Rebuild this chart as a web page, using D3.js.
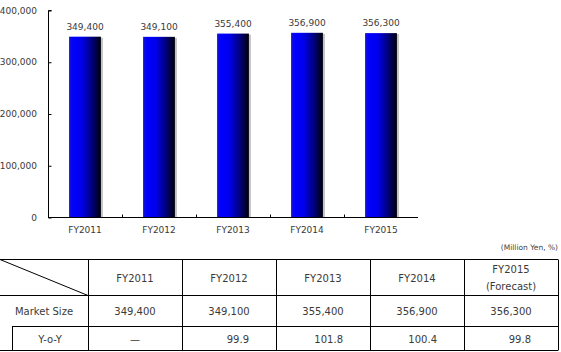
<!DOCTYPE html>
<html>
<head>
<meta charset="utf-8">
<script src="https://cdn.jsdelivr.net/npm/d3@7"></script>
<style>
  body { margin: 0; background: #fff; }
  svg { display: block; font-family: "DejaVu Sans", sans-serif; }
</style>
</head>
<body>
<div id="chart"></div>
<script>
const categories = ['FY2011', 'FY2012', 'FY2013', 'FY2014', 'FY2015'];
const marketSize = [349400, 349100, 355400, 356900, 356300];
const yoyValues = ['—', '99.9', '101.8', '100.4', '99.8'];
const headerLabels = [['FY2011'], ['FY2012'], ['FY2013'], ['FY2014'], ['FY2015', '(Forecast)']];
const yTicks = [0, 100000, 200000, 300000, 400000];
const unitNote = '(Million Yen, %)';

const width = 561, height = 352;
const fmt = d3.format(',');
const textColor = '#3a3a3a';

const svg = d3.select('#chart').append('svg')
    .attr('width', width)
    .attr('height', height);

// gradient for the bars: blue on the left fading to black
const defs = svg.append('defs');
const grad = defs.append('linearGradient')
    .attr('id', 'barGrad')
    .attr('x1', '0%').attr('x2', '100%')
    .attr('y1', '0%').attr('y2', '0%');
grad.append('stop').attr('offset', '0%').attr('stop-color', '#1414c8');
grad.append('stop').attr('offset', '12%').attr('stop-color', '#0000ff');
grad.append('stop').attr('offset', '40%').attr('stop-color', '#0000ea');
grad.append('stop').attr('offset', '75%').attr('stop-color', '#000070');
grad.append('stop').attr('offset', '100%').attr('stop-color', '#000008');

// CHART
const x = d3.scaleBand()
    .domain(categories)
    .range([48, 418])
    .paddingInner(0.57)
    .paddingOuter(0.285);

const y = d3.scaleLinear()
    .domain([0, 400000])
    .range([217.5, 10.5]);

const plot = svg.append('g');

// shadows
plot.selectAll('.bar-shadow')
    .data(marketSize)
    .enter()
    .append('rect')
    .attr('class', 'bar-shadow')
    .attr('x', (d, i) => x(categories[i]) + 2)
    .attr('y', d => y(d) + 1)
    .attr('width', x.bandwidth())
    .attr('height', d => y(0) - y(d) - 1)
    .attr('fill', '#9a9a9a')
    .attr('opacity', 0.6);

plot.selectAll('.bar')
    .data(marketSize)
    .enter()
    .append('rect')
    .attr('class', 'bar')
    .attr('x', (d, i) => x(categories[i]))
    .attr('y', d => y(d))
    .attr('width', x.bandwidth())
    .attr('height', d => y(0) - y(d))
    .attr('fill', 'url(#barGrad)');

plot.selectAll('.bar-label')
    .data(marketSize)
    .enter()
    .append('text')
    .attr('class', 'bar-label')
    .attr('x', (d, i) => x(categories[i]) + x.bandwidth() / 2)
    .attr('y', d => y(d) - 7)
    .attr('text-anchor', 'middle')
    .style('font-size', '9px')
    .attr('fill', textColor)
    .text(d => fmt(d));

// y axis (ticks point inward)
const yAxis = d3.axisRight(y)
    .tickValues(yTicks)
    .tickSize(3)
    .tickFormat('');
const yg = svg.append('g')
    .attr('transform', 'translate(48.5,0)')
    .call(yAxis);
yg.select('.domain').attr('d', `M3,${y(400000)}H0V${y(0)}`);

svg.append('g').selectAll('.y-label')
    .data(yTicks)
    .enter()
    .append('text')
    .attr('class', 'y-label')
    .attr('x', 37)
    .attr('y', d => y(d) + 3)
    .attr('text-anchor', 'end')
    .style('font-size', '9px')
    .attr('fill', textColor)
    .text(d => fmt(d));

// x axis with ticks at category boundaries pointing up
const boundaries = categories.slice(1).map(c => x(c) - x.step() * x.paddingInner() / 2);
const xg = svg.append('g');
xg.append('line')
    .attr('x1', 48).attr('x2', 418)
    .attr('y1', y(0)).attr('y2', y(0))
    .attr('stroke', '#000');
xg.selectAll('.xtick')
    .data(boundaries)
    .enter()
    .append('line')
    .attr('x1', d => Math.round(d) + 0.5)
    .attr('x2', d => Math.round(d) + 0.5)
    .attr('y1', y(0))
    .attr('y2', y(0) - 3)
    .attr('stroke', '#000');

xg.selectAll('.x-label')
    .data(categories)
    .enter()
    .append('text')
    .attr('x', d => x(d) + x.bandwidth() / 2)
    .attr('y', 233)
    .attr('text-anchor', 'middle')
    .style('font-size', '9px')
    .attr('fill', textColor)
    .text(d => d);

// TABLE
const col = d3.scaleBand()
    .domain(categories)
    .range([88, 558]);
const rowTop = 259.5, rowHead = 295.5, rowMs = 326.5, rowBottom = 350.5;

const table = svg.append('g')
    .attr('stroke', '#000')
    .attr('stroke-width', 1);

svg.append('text')
    .attr('x', 558)
    .attr('y', 250)
    .attr('text-anchor', 'end')
    .style('font-size', '7.5px')
    .attr('fill', '#444')
    .text(unitNote);

// horizontal lines
table.append('line').attr('x1', 0).attr('x2', 558).attr('y1', rowTop).attr('y2', rowTop);
table.append('line').attr('x1', 0).attr('x2', 558).attr('y1', rowHead).attr('y2', rowHead);
table.append('line').attr('x1', 12).attr('x2', 558).attr('y1', rowMs).attr('y2', rowMs);
table.append('line').attr('x1', 0).attr('x2', 558).attr('y1', rowBottom).attr('y2', rowBottom);

// vertical lines
const vx = [88].concat(categories.map(c => col(c) + col.bandwidth()));
table.selectAll('.vline')
    .data(vx)
    .enter()
    .append('line')
    .attr('x1', d => Math.round(d) + 0.5)
    .attr('x2', d => Math.round(d) + 0.5)
    .attr('y1', rowTop)
    .attr('y2', rowBottom);
table.append('line').attr('x1', 12.5).attr('x2', 12.5).attr('y1', rowMs).attr('y2', rowBottom);

// diagonal in corner cell
table.append('line').attr('x1', 0).attr('y1', rowTop).attr('x2', 88).attr('y2', rowHead);

const cellText = svg.append('g')
    .style('font-size', '10px')
    .attr('fill', textColor);

// header
headerLabels.forEach((lines, i) => {
    const cx = col(categories[i]) + col.bandwidth() / 2;
    const n = lines.length;
    lines.forEach((t, j) => {
        cellText.append('text')
            .attr('x', cx)
            .attr('y', (rowTop + rowHead) / 2 + 4 + (j - (n - 1) / 2) * 17)
            .attr('text-anchor', 'middle')
            .text(t);
    });
});

// market size row
cellText.append('text')
    .attr('x', 44)
    .attr('y', (rowHead + rowMs) / 2 + 4)
    .attr('text-anchor', 'middle')
    .text('Market Size');
cellText.selectAll('.ms')
    .data(marketSize)
    .enter()
    .append('text')
    .attr('x', (d, i) => col(categories[i]) + col.bandwidth() / 2)
    .attr('y', (rowHead + rowMs) / 2 + 4)
    .attr('text-anchor', 'middle')
    .text(d => fmt(d));

// y-o-y row
cellText.append('text')
    .attr('x', 50)
    .attr('y', (rowMs + rowBottom) / 2 + 4)
    .attr('text-anchor', 'middle')
    .text('Y-o-Y');
cellText.selectAll('.yoy')
    .data(yoyValues)
    .enter()
    .append('text')
    .attr('x', (d, i) => d === '—'
        ? col(categories[i]) + col.bandwidth() / 2
        : col(categories[i]) + col.bandwidth() - 27)
    .attr('y', (rowMs + rowBottom) / 2 + 4)
    .attr('text-anchor', (d) => d === '—' ? 'middle' : 'end')
    .text(d => d);
</script>
</body>
</html>
